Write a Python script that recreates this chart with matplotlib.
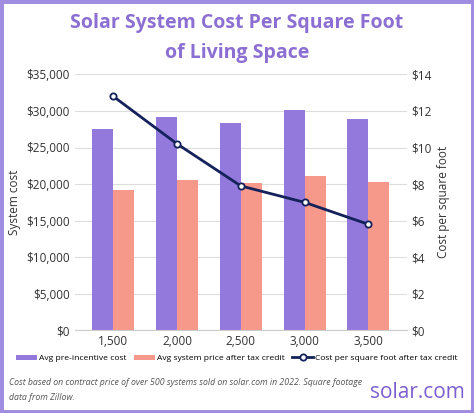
import numpy as np
import matplotlib
matplotlib.use("Agg")
import matplotlib.pyplot as plt
from matplotlib.patches import Rectangle
from matplotlib.ticker import FuncFormatter

categories = ["1,500", "2,000", "2,500", "3,000", "3,500"]
pre_incentive = [27500, 29200, 28400, 30100, 28900]
after_credit = [19200, 20500, 20100, 21100, 20300]
cost_per_sqft = [12.8, 10.2, 7.9, 7.0, 5.8]

PURPLE = "#9479dc"
SALMON = "#f7998a"
NAVY = "#14215a"
TITLE = "#8c6fd2"

plt.rcParams["font.family"] = ["Open Sans", "DejaVu Sans"]

fig = plt.figure(figsize=(4.74, 4.13), dpi=100)
ax = fig.add_axes([0.158, 0.2, 0.70, 0.62])
x = np.arange(len(categories))
w = 0.33
ax.bar(x - w / 2, pre_incentive, w, color=PURPLE, label="Avg pre-incentive cost")
ax.bar(x + w / 2, after_credit, w, color=SALMON, label="Avg system price after tax credit")
ax.set_ylim(0, 35000)
ax.set_yticks(range(0, 35001, 5000))
ax.yaxis.set_major_formatter(FuncFormatter(lambda v, p: f"${v:,.0f}"))
ax.set_xticks(x)
ax.set_xticklabels(categories)
ax.set_xlim(-0.6, 4.6)
ax.grid(axis="y", color="#dddddd", lw=0.8)
ax.set_axisbelow(True)
for s in ["top", "right", "left"]:
    ax.spines[s].set_visible(False)
ax.spines["bottom"].set_color("#cccccc")
ax.tick_params(length=0, labelsize=8.5, colors="#333333")
ax.set_ylabel("System cost", fontsize=8.5, color="#333333")

ax2 = ax.twinx()
ax2.plot(x, cost_per_sqft, color=NAVY, lw=2, marker="o", ms=4.5,
         mfc="white", mec=NAVY, mew=1.3, label="Cost per square foot after tax credit")
ax2.set_ylim(0, 14)
ax2.set_yticks(range(0, 15, 2))
ax2.yaxis.set_major_formatter(FuncFormatter(lambda v, p: f"${v:.0f}"))
for s in ax2.spines.values():
    s.set_visible(False)
ax2.tick_params(length=0, labelsize=8.5, colors="#333333")
ax2.set_ylabel("Cost per square foot", fontsize=8.5, color="#333333")

h1, l1 = ax.get_legend_handles_labels()
h2, l2 = ax2.get_legend_handles_labels()
fig.legend(h1 + h2, l1 + l2, loc="center", bbox_to_anchor=(0.5, 0.132), ncol=3,
           frameon=False, fontsize=6.1, handlelength=2.4, handleheight=0.5,
           columnspacing=0.9, handletextpad=0.3)

fig.text(0.5, 0.945, "Solar System Cost Per Square Foot", ha="center", va="center",
         fontsize=14, fontweight="bold", color=TITLE)
fig.text(0.5, 0.872, "of Living Space", ha="center", va="center",
         fontsize=14, fontweight="bold", color=TITLE)
fig.text(0.02, 0.075, "Cost based on contract price of over 500 systems sold on solar.com in 2022. Square footage",
         fontsize=6.3, style="italic", color="#555555", va="center")
fig.text(0.02, 0.037, "data from Zillow.", fontsize=6.3, style="italic", color="#555555", va="center")
fig.text(0.98, 0.05, "solar.com", fontsize=15, color="#7b5fd0", ha="right", va="center")

fig.patches.append(Rectangle((0, 0), 1, 1, transform=fig.transFigure, fill=False,
                             edgecolor="#a08ce0", lw=5))
fig.savefig("out.png", dpi=100)
